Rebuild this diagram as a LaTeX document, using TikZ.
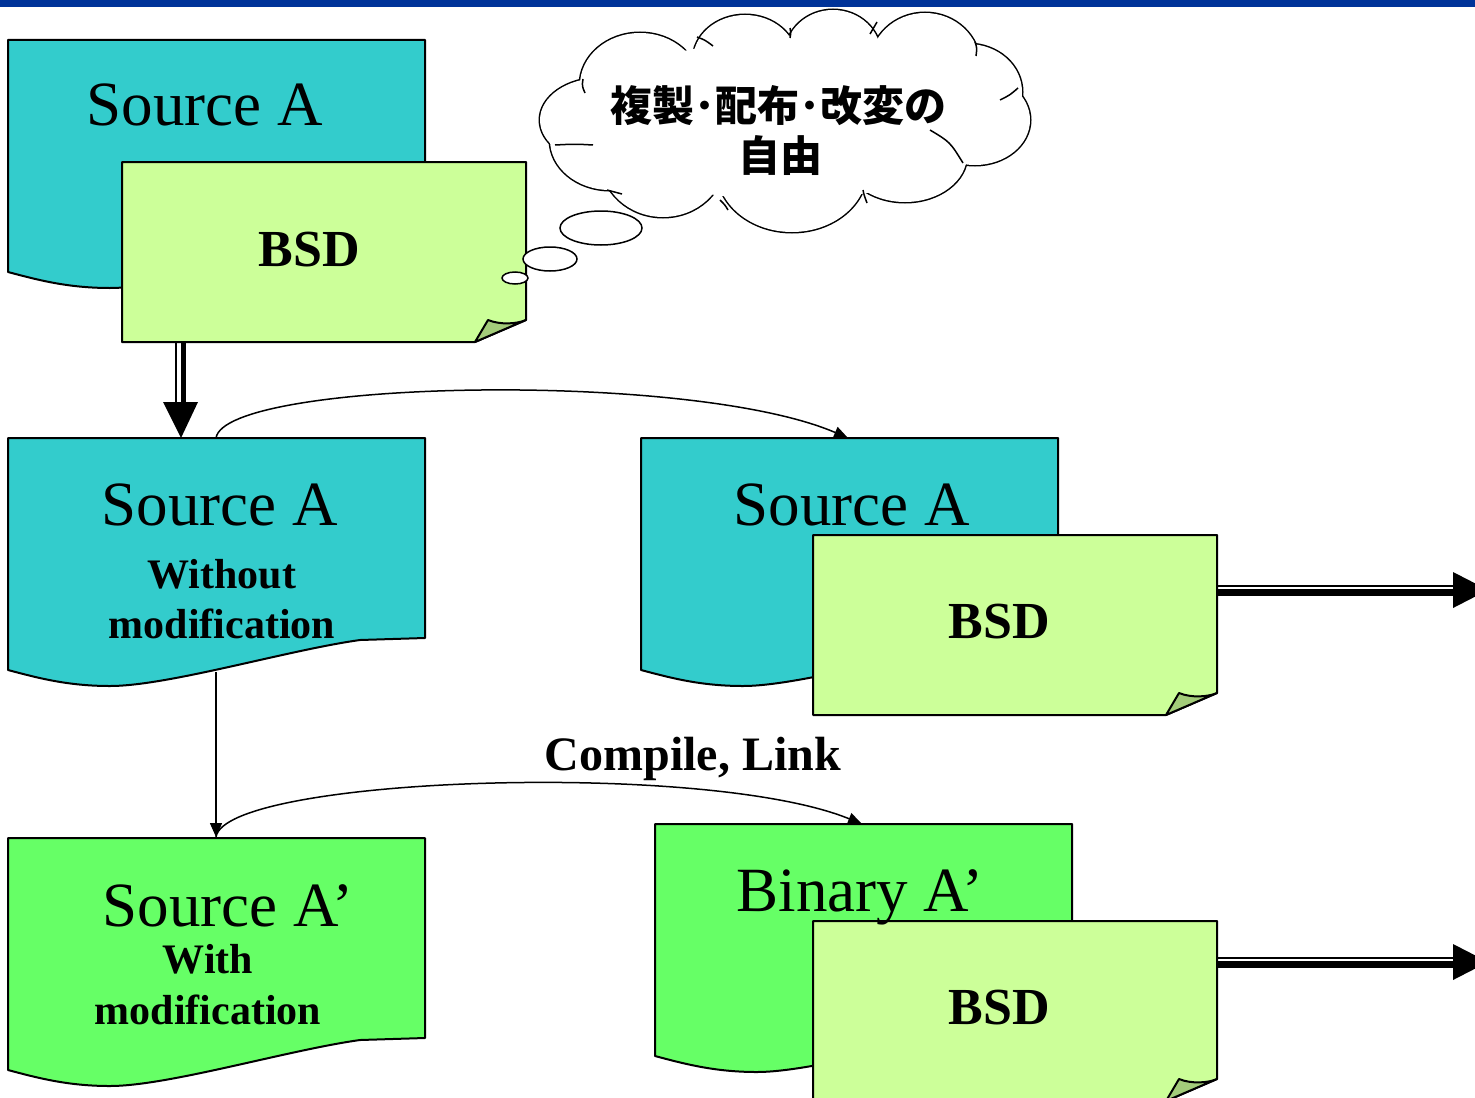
\documentclass[tikz,border=0pt]{standalone}
\usepackage{fontspec}
\setmainfont{Liberation Serif}
\newfontfamily\jpfont{Noto Sans CJK JP}
\usetikzlibrary{arrows.meta,calc}
\definecolor{bandblue}{HTML}{003399}
\definecolor{docteal}{HTML}{33CCCC}
\definecolor{docgreen}{HTML}{66FF66}
\definecolor{notegreen}{HTML}{CCFF99}
\definecolor{foldgreen}{HTML}{A3CC7A}
\newcommand\mydoc[3]{%
  \begin{scope}[shift={(#1,#2)}]
    \filldraw[docline,fill=#3] (0,0) -- (417,0) -- (417,200) -- (352,202)
      .. controls (280,212) and (160,248) .. (102,248)
      .. controls (60,248) and (30,240) .. (0,232) -- cycle;
  \end{scope}}
\newcommand\mynote[2]{%
  \begin{scope}[shift={(#1,#2)}]
    \filldraw[docline,fill=notegreen] (0,0) -- (404,0) -- (404,158) -- (353,180) -- (0,180) -- cycle;
    \filldraw[docline,fill=foldgreen] (353,180) -- (366,158)
      .. controls (378,163) and (395,162) .. (404,158) -- cycle;
  \end{scope}}
\begin{document}
\begin{tikzpicture}[x=0.5pt,y=-0.5pt,
  docline/.style={draw=black,line width=1pt,line join=round},
  srctext/.style={font=\fontsize{31.5}{36}\selectfont,inner sep=0pt,anchor=base},
  bsdtext/.style={font=\fontsize{26}{30}\selectfont\bfseries,inner sep=0pt,anchor=base},
  subtext/.style={font=\fontsize{21}{25}\selectfont\bfseries,inner sep=0pt,anchor=base},
  cltext/.style={font=\fontsize{24}{28}\selectfont\bfseries,inner sep=0pt,anchor=base},
  jptext/.style={font=\jpfont\bfseries\fontsize{21}{25}\selectfont,inner sep=0pt,anchor=base},
  thinarrow/.style={draw=black,line width=0.75pt,-{Triangle[length=7pt,width=6pt]}},
  dblthin/.style={draw=black,line width=1pt},
  dblthick/.style={draw=black,line width=3.25pt},
  puff/.style={draw=black,line width=1.5pt,fill=white},
  tail/.style={draw=black,line width=0.75pt},
  bubble/.style={draw=black,line width=0.75pt,fill=white}]
\useasboundingbox (0,0) rectangle (1475,1097);
\clip (0,0) rectangle (1475,1097);
\fill[white] (0,0) rectangle (1475,1097);
\fill[bandblue] (0,0) rectangle (1475,7);

% documents and notes
\mydoc{8}{40}{docteal}
\mynote{122}{162}
\mydoc{8}{438}{docteal}
\mydoc{641}{438}{docteal}
\mynote{813}{535}
\mydoc{8}{838}{docgreen}
\mydoc{655}{824}{docgreen}
\mynote{813}{921}

% cloud
\def\cloudlobes{640/85/60/52, 745/60/52/45, 833/55/48/45, 925/65/55/52,
  968/92/54/48, 975/120/55/45, 905/155/62/47, 792/170/75/62,
  663/160/62/57, 610/140/60/50, 600/120/60/42}
\foreach \cx/\cy/\rx/\ry in \cloudlobes
  \filldraw[puff] (\cx,\cy) ellipse [x radius=\rx, y radius=\ry];
\foreach \cx/\cy/\rx/\ry in \cloudlobes
  \fill[white] (\cx,\cy) ellipse [x radius=\rx, y radius=\ry];
\fill[white] (785,120) ellipse [x radius=200, y radius=80];
% inner tails of the cloud outline
\draw[tail] (583,79) .. controls (582,86) .. (585,93);
\draw[tail] (697,37) .. controls (705,40) .. (713,46);
\draw[tail] (790,28) .. controls (791,32) .. (790,38);
\draw[tail] (877,22) .. controls (873,28) .. (870,34);
\draw[tail] (975,42) .. controls (977,48) .. (976,56);
\draw[tail] (1000,100) .. controls (1010,95) .. (1018,88);
\draw[tail] (930,130) .. controls (950,142) .. (963,163);
\draw[tail] (863,190) .. controls (864,195) .. (867,203);
\draw[tail] (720,200) .. controls (725,205) .. (728,210);
\draw[tail] (607,190) .. controls (615,192) .. (622,194);
\draw[tail] (555,145) .. controls (575,144) .. (593,145);
\filldraw[bubble] (601,228) ellipse [x radius=41, y radius=17];
\filldraw[bubble] (550,259) ellipse [x radius=27, y radius=12];
\filldraw[bubble] (515,278) ellipse [x radius=13, y radius=6];

% text
\node[jptext] (jp1) at (778,121) {複製･配布･改変の};
\node[jptext] (jp2) at (780,171) {自由};
\node[srctext] (srcA1) at (205,126) {Source A};
\node[bsdtext] (bsd1) at (309,266) {BSD};
\node[srctext] (srcA2) at (220,525) {Source A};
\node[subtext] (wo) at (222,588) {Without};
\node[subtext] (mod1) at (222,638) {modification};
\node[srctext] (srcA3) at (852,525) {Source A};
\node[bsdtext] (bsd2) at (999,638) {BSD};
\node[cltext] (cl) at (693,770) {Compile, Link};
\node[srctext] (srcA4) at (228,926) {Source A’};
\node[subtext] (wi) at (208,973) {With};
\node[subtext] (mod2) at (208,1024) {modification};
\node[srctext] (binA) at (860,911) {Binary A’};
\node[bsdtext] (bsd3) at (999,1024) {BSD};

% connector anchor points
\coordinate (n1b) at (181,342);
\coordinate (d2t) at (181,438);
\coordinate (d2ta) at (216,438);
\coordinate (d3t) at (848,438);
\coordinate (d2b) at (216,672);
\coordinate (d4t) at (216,837);
\coordinate (d5t) at (862,824);
\coordinate (n2r) at (1216,590);
\coordinate (outm) at (1488,590);
\coordinate (n3r) at (1216,962);
\coordinate (outb) at (1488,962);

% double arrow down
\draw[dblthin] ($(n1b)+(-5,0)$) -- ($(d2t)+(-5,-36)$);
\draw[line width=2.5pt] ($(n1b)+(2,0)$) -- ($(d2t)+(2,-36)$);
\fill ($(d2t)+(-18,-36)$) -- ($(d2t)+(17,-36)$) -- (d2t) -- cycle;

% double arrows right
\draw[dblthin] ($(n2r)+(0,-4.5)$) -- ($(outm)+(-35,-4.5)$);
\draw[dblthick] ($(n2r)+(0,2.5)$) -- ($(outm)+(-35,2.5)$);
\fill ($(outm)+(-35,-18)$) -- ($(outm)+(-35,18)$) -- (outm) -- cycle;
\draw[dblthin] ($(n3r)+(0,-4.5)$) -- ($(outb)+(-35,-4.5)$);
\draw[dblthick] ($(n3r)+(0,2.5)$) -- ($(outb)+(-35,2.5)$);
\fill ($(outb)+(-35,-18)$) -- ($(outb)+(-35,18)$) -- (outb) -- cycle;

% thin connectors
\draw[thinarrow] (d2ta) .. controls (225,380) and (690,370) .. (d3t);
\draw[thinarrow] (d2b) -- (d4t);
\draw[thinarrow] (d4t) .. controls (225,777) and (705,760) .. (d5t);
\end{tikzpicture}
\end{document}
